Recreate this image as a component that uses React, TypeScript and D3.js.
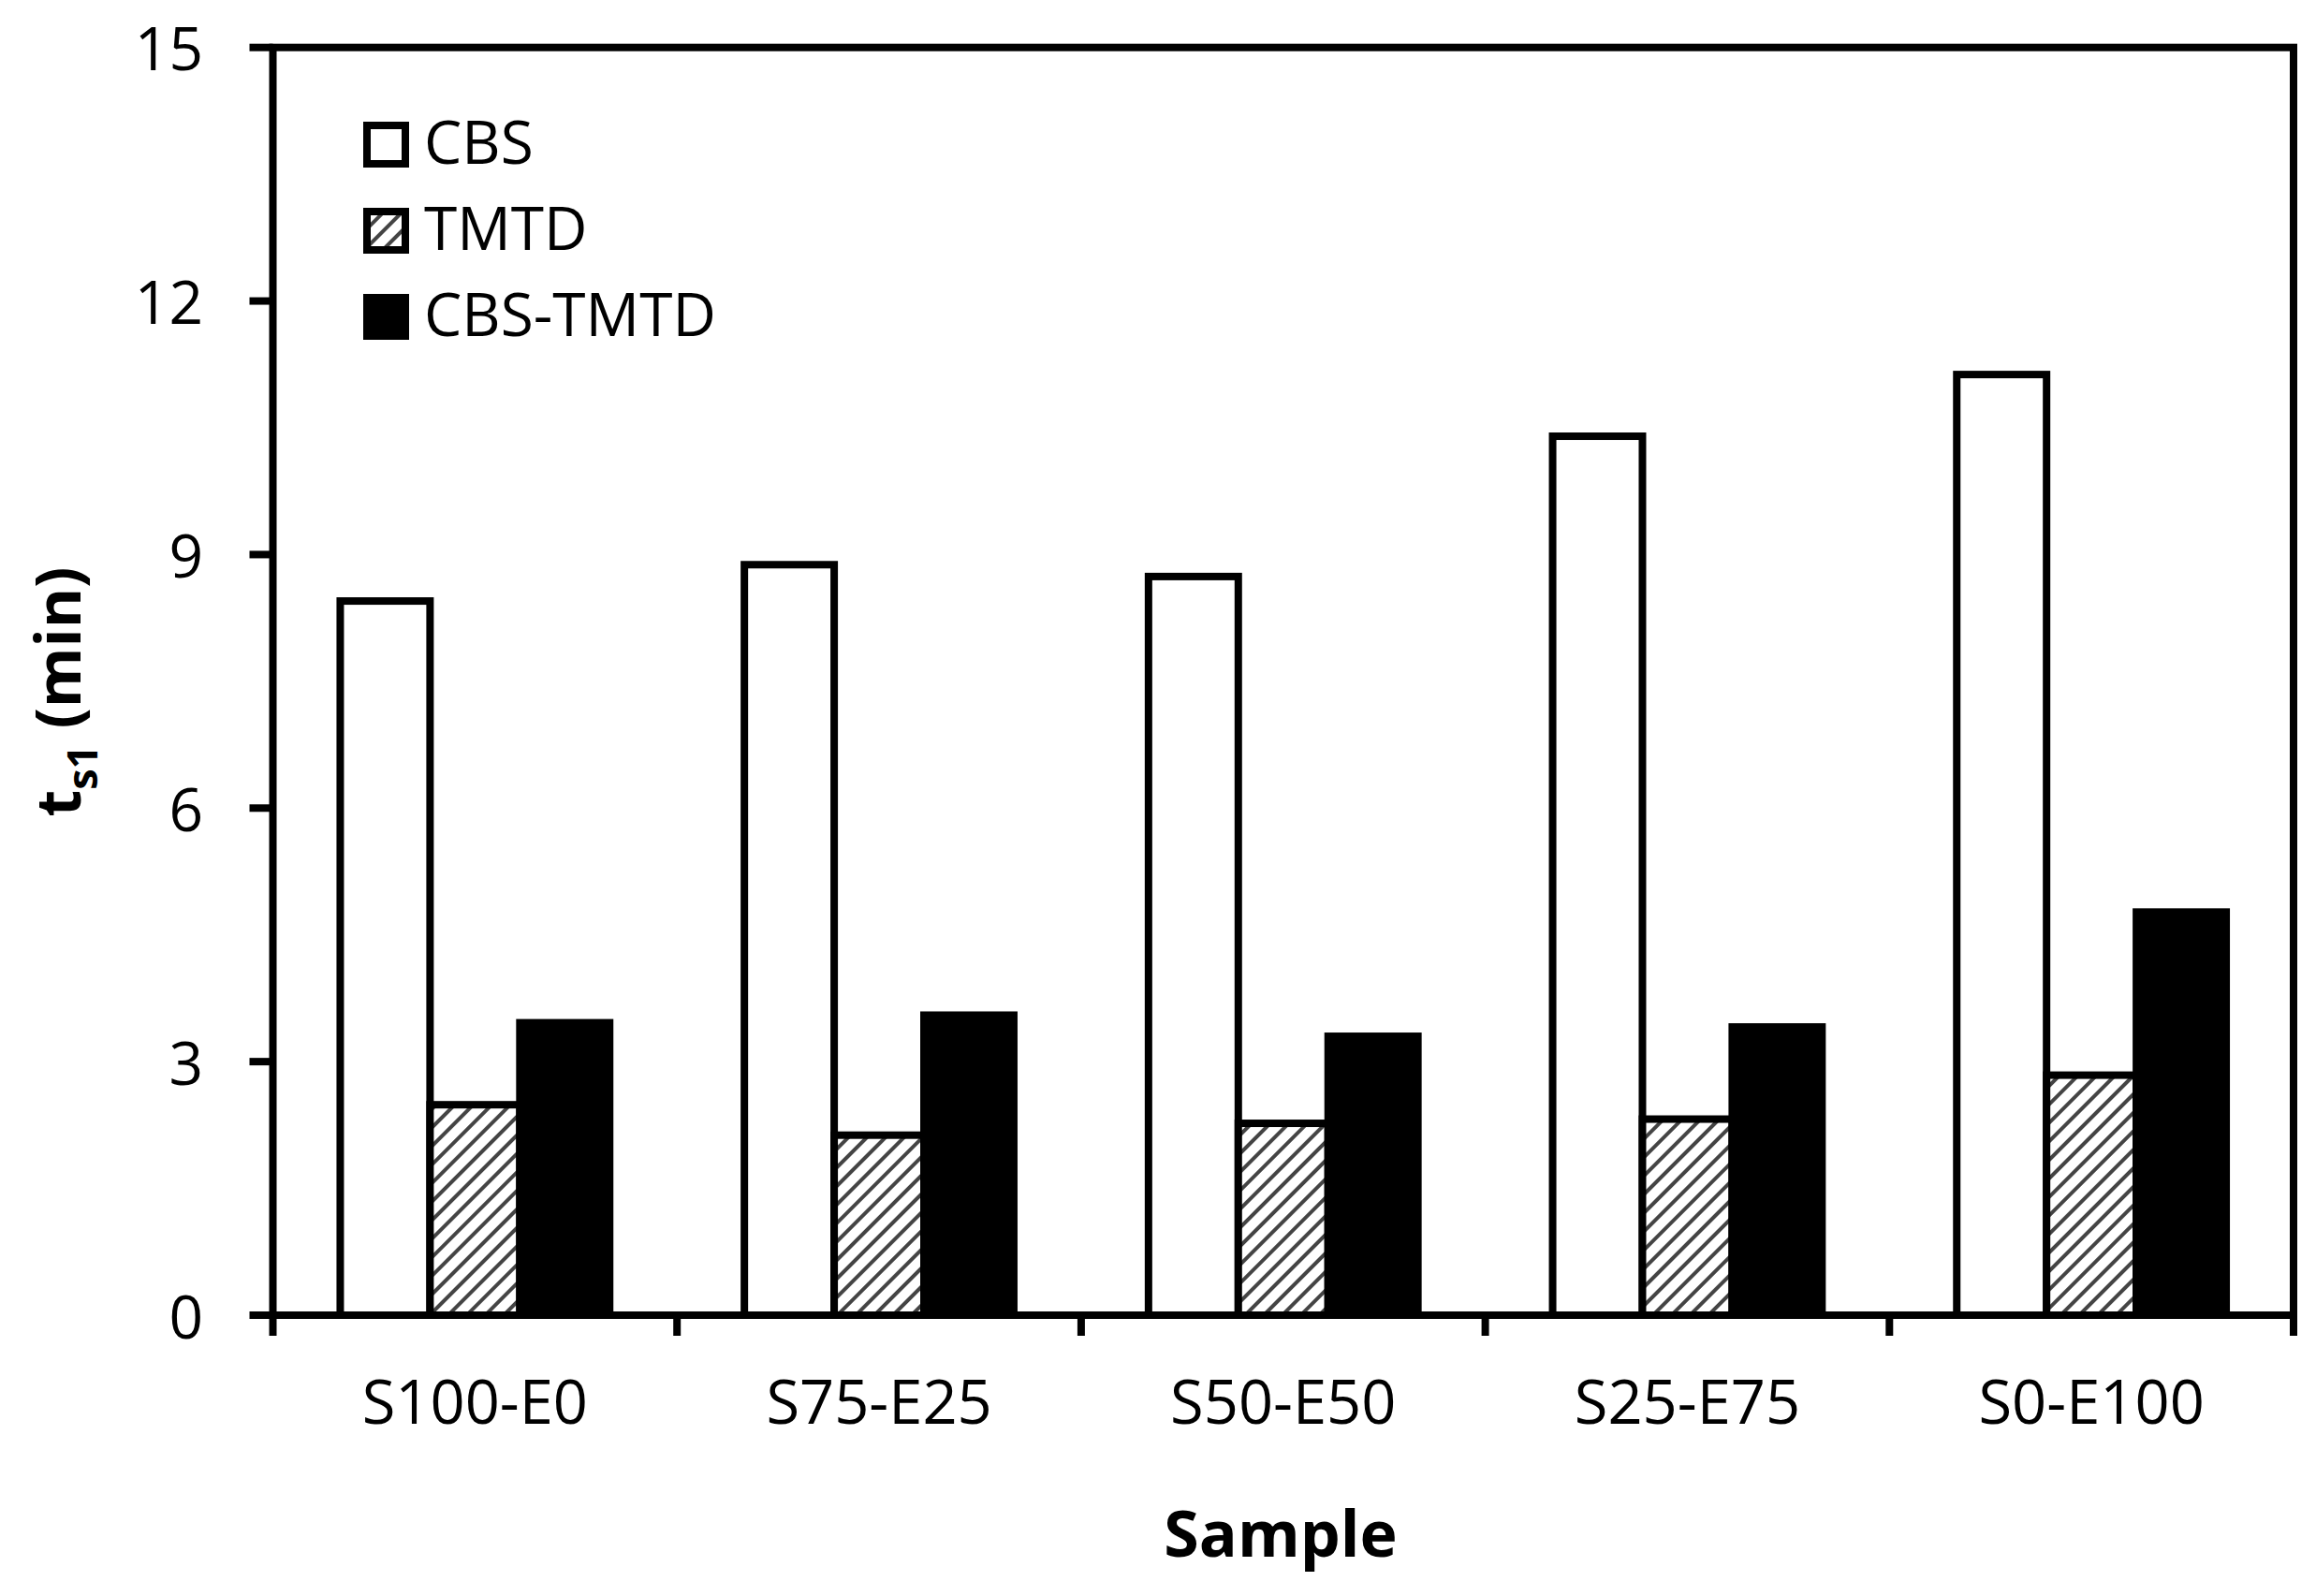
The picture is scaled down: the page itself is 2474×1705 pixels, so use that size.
import React from "react";
import * as d3 from "d3";

const categories = ["S100-E0", "S75-E25", "S50-E50", "S25-E75", "S0-E100"];
const seriesNames = ["CBS", "TMTD", "CBS-TMTD"];
const cbs = [8.45, 8.88, 8.74, 10.4, 11.13];
const tmtd = [2.49, 2.13, 2.27, 2.32, 2.84];
const cbsTmtd = [3.46, 3.55, 3.3, 3.41, 4.77];
const yTicks = [0, 3, 6, 9, 12, 15];

const W = 2474;
const H = 1705;
const left = 291.5;
const right = 2450;
const top = 50.7;
const bottom = 1405;
const FONT = "'Open Sans', 'Noto Sans', sans-serif";

export default function App() {
  const x0 = d3.scaleBand<string>().domain(categories).range([left, right]).padding(0);
  const x1 = d3
    .scaleBand<string>()
    .domain(seriesNames)
    .range([0, x0.step()])
    .paddingInner(0)
    .paddingOuter(0.75);
  const y = d3.scaleLinear().domain([0, 15]).range([bottom, top]);
  const bw = x1.bandwidth();
  const values: Record<string, number[]> = { CBS: cbs, TMTD: tmtd, "CBS-TMTD": cbsTmtd };
  const fills: Record<string, string> = { CBS: "#ffffff", TMTD: "url(#hatch)", "CBS-TMTD": "#000000" };
  const SW = 8;
  const boundaries = [...categories.map((c) => x0(c) as number), right];
  const P = 14;

  return (
    <svg
      width={W}
      height={H}
      style={{ position: "absolute", left: 0, top: 0, background: "#fff" }}
      xmlns="http://www.w3.org/2000/svg"
    >
      <defs>
        <pattern
          id="hatch"
          patternUnits="userSpaceOnUse"
          width={P}
          height={P}
          patternTransform="rotate(45)"
        >
          <rect width={P} height={P} fill="#fff" />
          <line x1={2} y1={0} x2={2} y2={P} stroke="#444" strokeWidth={4} />
        </pattern>
      </defs>
      <rect x={0} y={0} width={W} height={H} fill="#fff" />

      {/* bars */}
      {seriesNames.map((s) =>
        categories.map((c, i) => {
          const v = values[s][i];
          const bx = (x0(c) as number) + (x1(s) as number);
          return (
            <rect
              key={s + c}
              x={bx}
              y={y(v)}
              width={bw}
              height={y(0) - y(v)}
              fill={fills[s]}
              stroke="#000"
              strokeWidth={SW}
            />
          );
        })
      )}

      {/* plot border */}
      <rect x={left} y={top} width={right - left} height={bottom - top} fill="none" stroke="#000" strokeWidth={SW} />

      {/* y ticks */}
      {yTicks.map((t) => (
        <g key={t}>
          <line x1={left - 25} x2={left} y1={y(t)} y2={y(t)} stroke="#000" strokeWidth={SW} />
          <text
            x={217}
            y={y(t)}
            textAnchor="end"
            dominantBaseline="central"
            fontFamily={FONT}
            fontSize={64}
            fill="#000"
          >
            {t}
          </text>
        </g>
      ))}

      {/* x ticks */}
      {boundaries.map((bx, i) => (
        <line key={i} x1={bx} x2={bx} y1={bottom} y2={bottom + 22} stroke="#000" strokeWidth={SW} />
      ))}
      {categories.map((c) => (
        <text
          key={c}
          x={(x0(c) as number) + x0.bandwidth() / 2}
          y={1521}
          textAnchor="middle"
          fontFamily={FONT}
          fontSize={65}
          fill="#000"
        >
          {c}
        </text>
      ))}

      {/* axis titles */}
      <text
        x={1368}
        y={1663}
        textAnchor="middle"
        fontFamily={FONT}
        fontWeight="bold"
        fontSize={68}
        fill="#000"
      >
        Sample
      </text>
      <text
        transform={`translate(86, 739) rotate(-90)`}
        textAnchor="middle"
        fontFamily={FONT}
        fontWeight="bold"
        fontSize={66}
        fill="#000"
      >
        t
        <tspan fontSize={45} dy={18}>
          s1
        </tspan>
        <tspan dy={-18}> (min)</tspan>
      </text>

      {/* legend */}
      {seriesNames.map((s, i) => {
        const base = 175 + i * 92;
        return (
          <g key={s}>
            <rect x={392} y={base - 41} width={41} height={41} fill={fills[s]} stroke="#000" strokeWidth={SW} />
            <text x={453} y={base} fontFamily={FONT} fontSize={64} fill="#000">
              {s}
            </text>
          </g>
        );
      })}
    </svg>
  );
}
